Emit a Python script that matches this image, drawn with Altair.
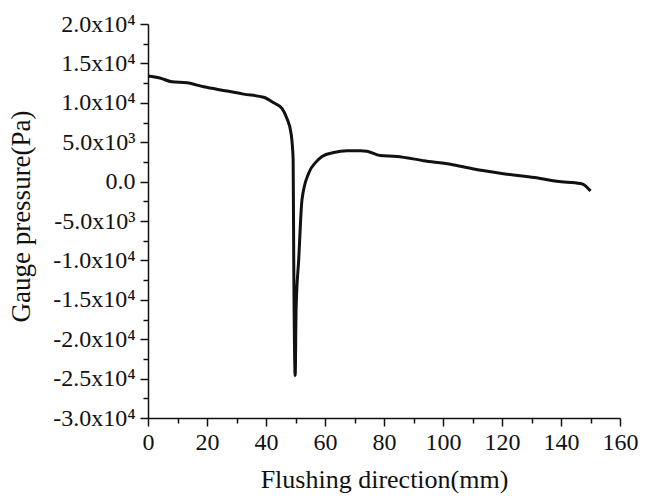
import altair as alt
import pandas as pd

# Flushing direction (mm) and gauge pressure (Pa)
x_mm = [0, 4, 8.1, 13.2, 18.9, 26.8, 32.4, 39.2, 42.6, 45.4, 47.1, 48.5, 49.2, 49.4, 49.9,
        50.2, 51.1, 52.2, 54.5, 57, 59, 63, 67.5, 72, 74.2, 78.7, 84.4, 93.4, 102.5,
        110.4, 120.6, 133, 138.6, 146.6, 148.5, 150]
pressure = [13400, 13150, 12660, 12540, 12030, 11500, 11100, 10700, 10000, 9300, 8000, 6100,
            2800, -9800, -24600, -16200, -9800, -2300, 1100, 2500, 3200, 3700, 3900, 3900,
            3850, 3300, 3200, 2650, 2200, 1600, 1000, 400, 40, -250, -600, -1200]

x_major = [0, 20, 40, 60, 80, 100, 120, 140, 160]
x_minor = [10, 30, 50, 70, 90, 110, 130, 150]
y_major = [-30000, -25000, -20000, -15000, -10000, -5000, 0, 5000, 10000, 15000, 20000]
y_minor = [-27500, -22500, -17500, -12500, -7500, -2500, 2500, 7500, 12500, 17500]

df = pd.DataFrame({"x": x_mm, "v": pressure})

FONT = "Liberation Serif"
INK = "#111111"

label_expr = (
    "datum.value == 0 ? '0.0' : ((datum.value < 0 ? '-' : '') + "
    "(abs(datum.value) < 10000 ? format(abs(datum.value)/1000, '.1f') + 'x10\u00b3' "
    ": format(abs(datum.value)/10000, '.1f') + 'x10\u2074'))"
)

xscale = alt.Scale(domain=[0, 160], nice=False, zero=False)
yscale = alt.Scale(domain=[-30000, 20000], nice=False, zero=False)

major_x = alt.Axis(
    orient="bottom", values=x_major, tickSize=8, tickWidth=1.5, tickColor=INK,
    domainColor=INK, domainWidth=1.5, grid=False,
    labelFont=FONT, labelFontSize=24, labelColor=INK, labelPadding=4,
    labelFlush=False, labelOverlap=False,
    title="Flushing direction(mm)", titleFont=FONT, titleFontSize=26,
    titleFontWeight="normal", titleColor=INK, titleY=48,
)
major_y = alt.Axis(
    orient="left", values=y_major, tickSize=8, tickWidth=1.5, tickColor=INK,
    domainColor=INK, domainWidth=1.5, grid=False,
    labelFont=FONT, labelFontSize=24, labelColor=INK, labelPadding=5,
    labelFlush=False, labelOverlap=False, labelExpr=label_expr,
    title="Gauge pressure(Pa)", titleFont=FONT, titleFontSize=27,
    titleFontWeight="normal", titleColor=INK, titleX=-113, titleY=192,
)
minor_x = alt.Axis(
    orient="bottom", values=x_minor, tickSize=5, tickWidth=1.5, tickColor=INK,
    domain=False, labels=False, grid=False, title=None,
)
minor_y = alt.Axis(
    orient="left", values=y_minor, tickSize=5, tickWidth=1.5, tickColor=INK,
    domain=False, labels=False, grid=False, title=None,
)

base = alt.Chart(df)
minor = base.mark_line(opacity=0).encode(
    x=alt.X("x:Q", scale=xscale, axis=minor_x),
    y=alt.Y("v:Q", scale=yscale, axis=minor_y),
)
line = base.mark_line(color=INK, strokeWidth=3, interpolate="monotone").encode(
    x=alt.X("x:Q", scale=xscale, axis=major_x),
    y=alt.Y("v:Q", scale=yscale, axis=major_y),
    order="index:Q",
).transform_window(index="row_number()")

chart = (
    alt.layer(minor, line)
    .resolve_axis(x="independent", y="independent")
    .properties(
        width=472, height=394,
        padding={"left": 140, "top": 16, "right": 18, "bottom": 76},
        autosize=alt.AutoSizeParams(type="none"),
        background="white",
    )
    .configure_view(stroke=None)
    .configure_axis(labelFont=FONT, labelFontSize=24, labelColor=INK,
                    titleFont=FONT, titleFontWeight="normal")
)

chart.save("out.html", embed_options={"renderer": "svg", "actions": False})
